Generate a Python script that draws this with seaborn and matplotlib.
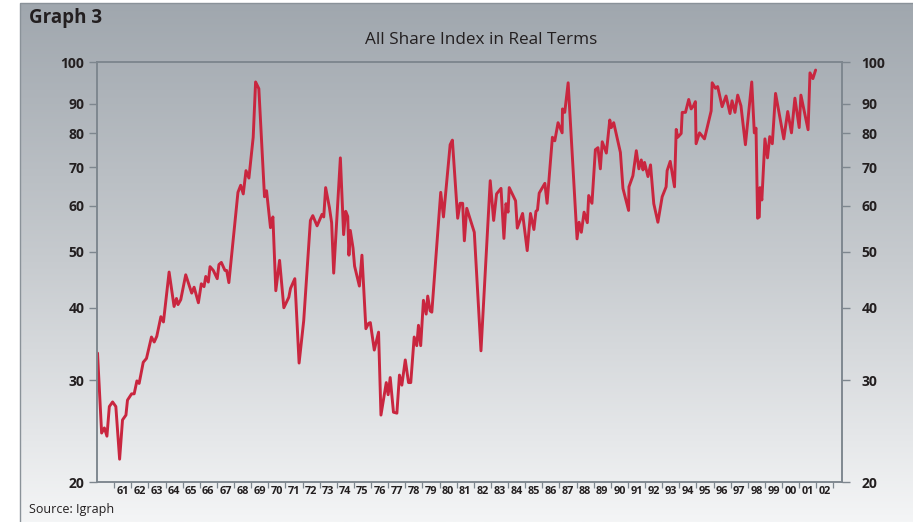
import numpy as np
import matplotlib
matplotlib.use("Agg")
import matplotlib.pyplot as plt
import matplotlib.ticker as mticker
from matplotlib.patches import Rectangle
from matplotlib.colors import LinearSegmentedColormap
import seaborn as sns

# All Share Index in real terms (year, index level)
years = [
    1960.03, 1960.27, 1960.43, 1960.58, 1960.72, 1960.91, 1961.10, 1961.32, 1961.49, 1961.69,
    1961.78, 1962.02, 1962.17, 1962.33, 1962.46, 1962.70, 1962.89, 1963.18, 1963.34, 1963.49,
    1963.73, 1963.88, 1964.21, 1964.50, 1964.64, 1964.73, 1964.89, 1965.18, 1965.53, 1965.67,
    1965.92, 1966.09, 1966.25, 1966.35, 1966.50, 1966.60, 1966.79, 1967.02, 1967.12, 1967.26,
    1967.47, 1967.57, 1967.70, 1967.90, 1968.23, 1968.39, 1968.54, 1968.70, 1968.87, 1969.12,
    1969.26, 1969.45, 1969.78, 1969.90, 1970.13, 1970.27, 1970.44, 1970.66, 1970.91, 1971.20,
    1971.30, 1971.55, 1971.80, 1972.07, 1972.46, 1972.60, 1972.85, 1973.14, 1973.24, 1973.35,
    1973.57, 1973.70, 1973.82, 1974.21, 1974.40, 1974.52, 1974.64, 1974.71, 1974.79, 1974.95,
    1975.04, 1975.32, 1975.47, 1975.70, 1975.86, 1975.96, 1976.19, 1976.44, 1976.58, 1976.89,
    1977.00, 1977.12, 1977.31, 1977.51, 1977.66, 1977.80, 1978.00, 1978.19, 1978.32, 1978.52,
    1978.67, 1978.77, 1978.90, 1979.06, 1979.22, 1979.31, 1979.45, 1979.55, 1980.07, 1980.23,
    1980.62, 1980.75, 1981.06, 1981.20, 1981.35, 1981.45, 1981.59, 1982.03, 1982.42, 1982.96,
    1983.16, 1983.33, 1983.59, 1983.76, 1983.88, 1984.00, 1984.07, 1984.44, 1984.54, 1984.85,
    1985.12, 1985.31, 1985.51, 1985.63, 1985.72, 1985.82, 1986.15, 1986.28, 1986.59, 1986.73,
    1986.92, 1987.16, 1987.18, 1987.31, 1987.51, 1988.03, 1988.15, 1988.28, 1988.44, 1988.63,
    1988.71, 1988.90, 1989.10, 1989.25, 1989.39, 1989.50, 1989.74, 1989.94, 1990.03, 1990.17,
    1990.56, 1990.71, 1991.04, 1991.06, 1991.29, 1991.49, 1991.64, 1991.78, 1991.88, 1991.97,
    1992.17, 1992.32, 1992.51, 1992.75, 1993.00, 1993.23, 1993.29, 1993.47, 1993.72, 1993.82,
    1993.91, 1994.11, 1994.17, 1994.36, 1994.55, 1994.69, 1994.83, 1994.94, 1994.98, 1995.18,
    1995.47, 1995.86, 1995.92, 1996.11, 1996.24, 1996.50, 1996.73, 1996.96, 1997.08, 1997.25,
    1997.41, 1997.60, 1997.86, 1998.23, 1998.38, 1998.48, 1998.57, 1998.67, 1998.71, 1998.82,
    1999.00, 1999.15, 1999.28, 1999.43, 1999.62, 2000.10, 2000.33, 2000.55, 2000.75, 2001.00,
    2001.10, 2001.52, 2001.63, 2001.80, 2001.96,
]
index_values = [
    33.4, 24.3, 24.8, 24.0, 27.0, 27.5, 27.0, 21.9, 25.6, 26.1,
    27.7, 28.4, 28.4, 29.9, 29.6, 32.2, 32.7, 35.6, 34.9, 35.7,
    38.6, 37.8, 46.1, 40.2, 41.5, 40.5, 41.3, 45.6, 42.4, 43.4,
    40.8, 44.0, 43.5, 45.3, 44.3, 47.1, 46.4, 44.9, 47.5, 47.9,
    46.4, 46.4, 44.2, 50.6, 63.3, 65.1, 62.9, 69.0, 67.0, 78.8,
    95.1, 93.5, 62.2, 63.7, 55.0, 57.4, 42.8, 48.3, 40.0, 41.7,
    43.2, 44.9, 32.1, 38.0, 56.6, 57.7, 55.4, 58.0, 57.4, 64.5,
    59.6, 56.1, 45.9, 72.6, 53.5, 58.7, 57.5, 49.3, 54.4, 50.7,
    47.2, 43.6, 49.3, 36.8, 37.6, 37.7, 33.8, 36.3, 26.1, 29.7,
    28.3, 30.3, 26.4, 26.3, 30.6, 29.4, 32.5, 29.7, 29.7, 35.6,
    34.4, 37.3, 34.4, 41.2, 39.0, 41.9, 39.5, 39.3, 63.3, 57.4,
    76.5, 77.9, 57.1, 60.6, 60.6, 52.2, 59.4, 54.0, 33.7, 66.3,
    56.6, 62.9, 64.3, 52.7, 60.5, 58.5, 64.5, 61.2, 54.9, 58.2,
    50.2, 58.2, 54.6, 58.7, 59.0, 63.1, 65.6, 60.6, 78.8, 77.7,
    83.5, 80.2, 88.2, 87.0, 94.9, 52.6, 56.2, 54.0, 58.5, 56.1,
    62.5, 60.6, 75.0, 75.6, 69.5, 77.4, 74.0, 84.4, 81.9, 83.5,
    74.2, 64.3, 58.9, 64.7, 67.6, 74.7, 69.5, 72.0, 69.2, 71.3,
    67.4, 70.6, 60.5, 56.2, 62.2, 64.7, 69.0, 71.6, 64.7, 81.3,
    78.8, 80.0, 87.0, 87.0, 91.0, 88.2, 89.3, 90.5, 76.8, 80.2,
    78.3, 87.5, 94.9, 93.6, 94.0, 89.0, 91.8, 86.6, 90.7, 87.0,
    92.0, 89.3, 76.5, 95.1, 80.2, 81.7, 57.1, 57.4, 64.5, 61.4,
    78.3, 72.6, 79.0, 76.8, 92.4, 78.3, 87.3, 80.2, 91.3, 81.9,
    92.0, 81.2, 97.3, 95.9, 98.0,
]
y_ticks = [20, 30, 40, 50, 60, 70, 80, 90, 100]
label_years = list(range(1961, 2003))
year_labels = ["%02d" % (y % 100) for y in label_years]

LINE_RED = "#c9263f"
AXIS_GREY = "#7d868e"
TEXT = "#231f20"

# the source chart stretches the 90-100 band; log below 90
K = 1.58
L90 = np.log(90.0)


def fwd(v):
    lv = np.log(np.clip(np.asarray(v, dtype=float), 1e-3, None))
    return np.where(lv <= L90, lv, L90 + (lv - L90) * K)


def inv(z):
    z = np.asarray(z, dtype=float)
    return np.where(z <= L90, np.exp(z), np.exp(L90 + (z - L90) / K))


def style_value_axis(a, pad):
    a.set_yscale("function", functions=(fwd, inv))
    a.set_ylim(20, 100)
    a.yaxis.set_major_locator(mticker.FixedLocator(y_ticks))
    a.yaxis.set_minor_locator(mticker.NullLocator())
    a.yaxis.set_major_formatter(mticker.FixedFormatter([str(t) for t in y_ticks]))
    a.tick_params(axis="y", which="major", direction="out", length=6, width=1.0,
                  color=AXIS_GREY, pad=pad, labelsize=10, labelcolor=TEXT)
    for side in ["left", "right", "top", "bottom"]:
        a.spines[side].set_visible(True)
        a.spines[side].set_color(AXIS_GREY)
        a.spines[side].set_linewidth(1.1)


sns.set_style("ticks")
plt.rcParams["font.family"] = ["Open Sans", "DejaVu Sans"]

fig = plt.figure(figsize=(9.13, 5.22), dpi=100)

# grey-to-white panel behind the chart
bg = fig.add_axes([20 / 913, 0, 1 - 20 / 913, 519 / 522], zorder=0)
cmap = LinearSegmentedColormap.from_list("panel", ["#f4f5f6", "#c7cbcf", "#a0a7ae"])
bg.imshow(np.linspace(0, 1, 256).reshape(-1, 1)[::-1], cmap=cmap, aspect="auto",
          extent=[0, 1, 0, 1])
bg.set_axis_off()
fig.patches.append(Rectangle((20 / 913, -0.02), 1.0, 519 / 522 + 0.02, transform=fig.transFigure,
                             fill=False, edgecolor="#8a9299", linewidth=1.0, zorder=1))

ax = fig.add_axes([97 / 913, 40 / 522, 745 / 913, 420 / 522], zorder=2)
ax.set_facecolor("none")
sns.lineplot(x=years, y=index_values, ax=ax, color=LINE_RED, linewidth=2.1, legend=False)
ax.set_xlim(1960, 2003.5)
style_value_axis(ax, pad=3)

# year labels sit mid-year; short ticks mark the year boundaries
ax.xaxis.set_major_locator(mticker.FixedLocator([y + 0.5 for y in label_years]))
ax.xaxis.set_major_formatter(mticker.FixedFormatter(year_labels))
ax.xaxis.set_minor_locator(mticker.FixedLocator(list(range(1961, 2004))))
ax.tick_params(axis="x", which="major", length=0, pad=3, labelsize=7.8, labelcolor=TEXT)
ax.tick_params(axis="x", which="minor", direction="out", length=4, width=0.9, color=AXIS_GREY)
for lab in ax.get_xticklabels() + ax.get_yticklabels():
    lab.set_fontweight("bold")
ax.set_xlabel("")
ax.set_ylabel("")

# right-hand copy of the value axis
ax2 = ax.twinx()
style_value_axis(ax2, pad=8)
for lab in ax2.get_yticklabels():
    lab.set_fontweight("bold")

fig.text(481 / 913, 1 - 40 / 522, "All Share Index in Real Terms", ha="center", va="center",
         fontsize=12.3, color=TEXT)
fig.text(29 / 913, 1 - 18 / 522, "Graph 3", ha="left", va="center", fontsize=13.5,
         fontweight="bold", color=TEXT)
fig.text(29 / 913, 1 - 510 / 522, "Source: Igraph", ha="left", va="center", fontsize=9,
         color=TEXT)

fig.savefig("out.png", dpi=100)
plt.close(fig)
